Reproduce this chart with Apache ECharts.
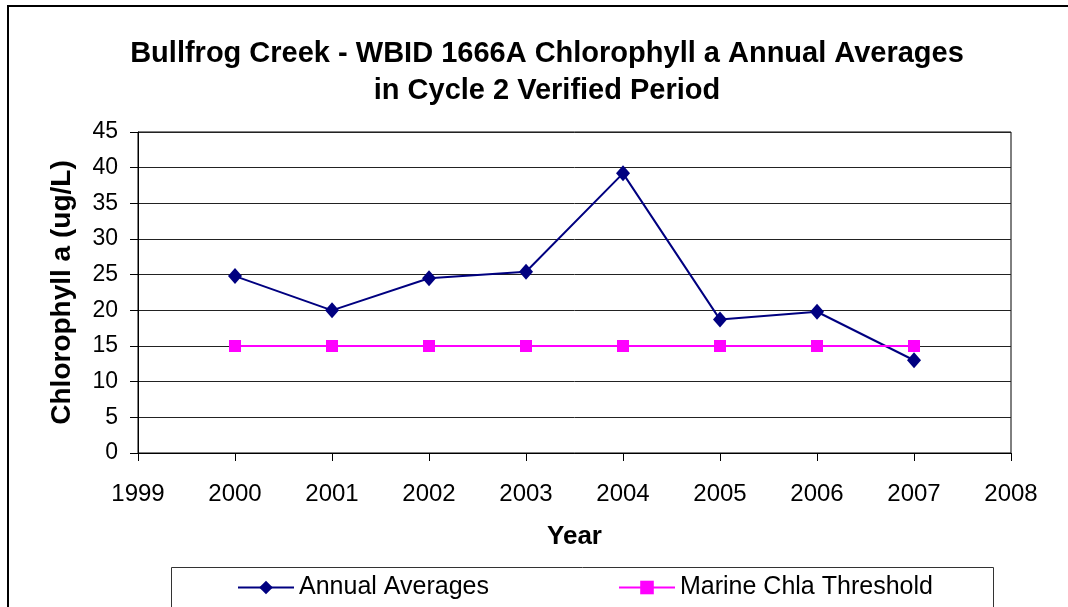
<!DOCTYPE html>
<html>
<head>
<meta charset="utf-8">
<script src="https://cdn.jsdelivr.net/npm/echarts@6/dist/echarts.min.js"></script>
<style>html,body{margin:0;padding:0;background:#fff}#c{width:1068px;height:607px}</style>
</head>
<body>
<div id="c"></div>
<script>
const years = [2000, 2001, 2002, 2003, 2004, 2005, 2006, 2007];
const annualAverages = [24.8, 20.0, 24.5, 25.4, 39.2, 18.7, 19.8, 13.0];
const marineThreshold = [15, 15, 15, 15, 15, 15, 15, 15];
const xMin = 1999, xMax = 2008, xStep = 1;
const yMin = 0, yMax = 45, yStep = 5;
const titleLines = ['Bullfrog Creek - WBID 1666A Chlorophyll a Annual Averages', 'in Cycle 2 Verified Period'];
const seriesNames = ['Annual Averages', 'Marine Chla Threshold'];

const FONT = '"Liberation Sans", Arial, sans-serif';
const chart = echarts.init(document.getElementById('c'), null, {renderer: 'canvas'});
chart.setOption({
  animation: false,
  backgroundColor: '#fff',
  textStyle: {fontFamily: FONT, color: '#000'},
  title: {
    text: titleLines.join('\n'),
    left: 542, top: 30, textAlign: 'center',
    textStyle: {fontFamily: FONT, fontSize: 29, fontWeight: 'bold', color: '#000', lineHeight: 37}
  },
  graphic: [
    {type: 'rect', shape: {x: 8, y: 6, width: 1100, height: 700}, style: {fill: 'none', stroke: '#000', lineWidth: 2}, z: 0},
    {type: 'rect', shape: {x: 171.5, y: 567.5, width: 822, height: 80}, style: {fill: '#fff', stroke: '#333', lineWidth: 1}, z: 1}
  ],
  legend: [
    {data: [{name: seriesNames[0], itemStyle: {color: '#000080'}}], left: 237, top: 575, padding: 0, itemWidth: 56, itemHeight: 17,
     textStyle: {fontFamily: FONT, fontSize: 25, color: '#000'}, z: 5},
    {data: [{name: seriesNames[1], itemStyle: {color: '#FF00FF'}}], left: 618, top: 575, padding: 0, itemWidth: 56, itemHeight: 17,
     textStyle: {fontFamily: FONT, fontSize: 25, color: '#000'}, z: 5}
  ],
  grid: {left: 138, top: 132, width: 873, height: 321, show: true, borderColor: '#000', borderWidth: 1, backgroundColor: '#fff'},
  xAxis: {
    type: 'value', min: xMin, max: xMax, interval: xStep,
    name: 'Year', nameLocation: 'middle', nameGap: 71,
    nameTextStyle: {fontFamily: FONT, fontSize: 26, fontWeight: 'bold', color: '#000'},
    axisLine: {lineStyle: {color: '#000', width: 1}},
    axisTick: {show: true, inside: false, length: 8, lineStyle: {color: '#000'}},
    axisLabel: {fontFamily: FONT, fontSize: 24, color: '#000', margin: 29, formatter: v => String(v)},
    splitLine: {show: false}
  },
  yAxis: {
    type: 'value', min: yMin, max: yMax, interval: yStep,
    name: 'Chlorophyll a (ug/L)', nameLocation: 'middle', nameGap: 62, nameRotate: 90,
    nameTextStyle: {fontFamily: FONT, fontSize: 28, fontWeight: 'bold', color: '#000'},
    axisLine: {show: true, lineStyle: {color: '#000', width: 1}},
    axisTick: {show: true, inside: false, length: 8, lineStyle: {color: '#000'}},
    axisLabel: {fontFamily: FONT, fontSize: 23, color: '#000', margin: 20},
    splitLine: {show: true, lineStyle: {color: '#222', width: 1}}
  },
  series: [
    {name: seriesNames[0], type: 'line', data: years.map((y, i) => [y, annualAverages[i]]),
     symbol: 'diamond', symbolSize: [14, 16], itemStyle: {color: '#000080'},
     lineStyle: {color: '#000080', width: 2}, z: 3},
    {name: seriesNames[1], type: 'line', data: years.map((y, i) => [y, marineThreshold[i]]),
     symbol: 'rect', symbolSize: 12, itemStyle: {color: '#FF00FF'},
     lineStyle: {color: '#FF00FF', width: 2}, z: 4}
  ]
});
</script>
</body>
</html>
